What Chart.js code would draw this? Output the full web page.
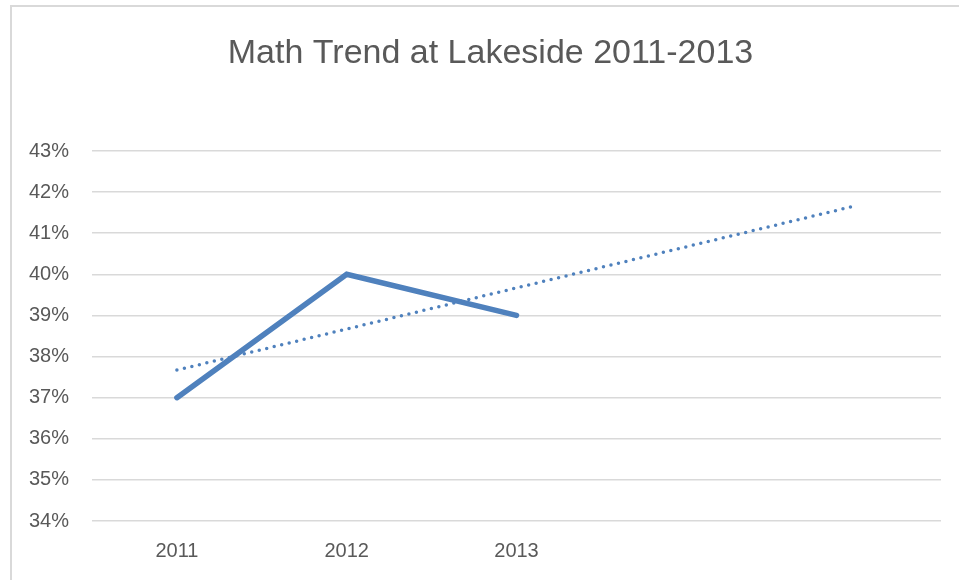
<!DOCTYPE html>
<html>
<head>
<meta charset="utf-8">
<script src="https://cdn.jsdelivr.net/npm/chart.js@4"></script>
<style>
  html, body { margin: 0; padding: 0; background: #fff; overflow: hidden; }
  #frame {
    position: absolute; left: 10px; top: 5px; width: 1000px; height: 600px;
    border-left: 2px solid #d9d9d9; border-top: 2px solid #d9d9d9;
  }
  #myChart { position: absolute; left: 11px; top: 7px; }
</style>
</head>
<body>
<div id="frame"></div>
<canvas id="myChart" width="959" height="573"></canvas>
<script>
// categories (last two slots are the trendline's forward periods)
var years = ['2011', '2012', '2013', '', ''];
// math proficiency, percent
var mathScores = [37, 40, 39, null, null];
// linear trendline
var trendValues = [37.67, 38.67, 39.67, 40.67, 41.67];
var yTicks = { min: 34, max: 43, step: 1 };

var ctx = document.getElementById('myChart').getContext('2d');
var chart = new Chart(ctx, {
    type: 'line',
    data: {
        labels: years,
        datasets: [{
            label: 'Math',
            data: mathScores,
            borderColor: '#4f81bd',
            borderWidth: 5.5,
            borderJoinStyle: 'miter',
            borderCapStyle: 'round',
            pointRadius: 0,
            tension: 0,
            spanGaps: false
        }, {
            label: 'Linear (Math)',
            data: trendValues,
            borderColor: '#4f81bd',
            borderWidth: 3.5,
            borderDash: [0, 7.7],
            borderCapStyle: 'round',
            pointRadius: 0,
            tension: 0
        }]
    },
    options: {
        responsive: false,
        devicePixelRatio: 1,
        animation: false,
        layout: { padding: 0 },
        plugins: {
            legend: { display: false },
            tooltip: { enabled: false },
            title: {
                display: true,
                text: 'Math Trend at Lakeside 2011-2013',
                color: '#595959',
                font: { family: 'Liberation Sans', size: 34, weight: 'normal', lineHeight: 1.2 },
                padding: { top: 26, bottom: 77.2 }
            }
        },
        scales: {
            x: {
                offset: true,
                grid: { display: false, drawTicks: false },
                border: { display: false },
                ticks: {
                    color: '#595959',
                    font: { family: 'Liberation Sans', size: 20 },
                    padding: 18,
                    maxRotation: 0
                },
                afterFit: function (scale) { scale.height = 59; }
            },
            y: {
                min: yTicks.min,
                max: yTicks.max,
                grid: { color: '#d9d9d9', lineWidth: 1.5, drawTicks: false },
                border: { display: false },
                ticks: {
                    stepSize: yTicks.step,
                    color: '#595959',
                    font: { family: 'Liberation Sans', size: 20 },
                    padding: 23,
                    callback: function (v) { return v + '%'; }
                },
                afterFit: function (scale) { scale.width = 81; }
            },
            // empty right axis, only keeps the right margin of the plot
            yRight: {
                position: 'right',
                min: yTicks.min,
                max: yTicks.max,
                grid: { display: false, drawTicks: false },
                border: { display: false },
                ticks: { display: false },
                afterFit: function (scale) { scale.width = 29; }
            }
        }
    }
});
</script>
</body>
</html>
